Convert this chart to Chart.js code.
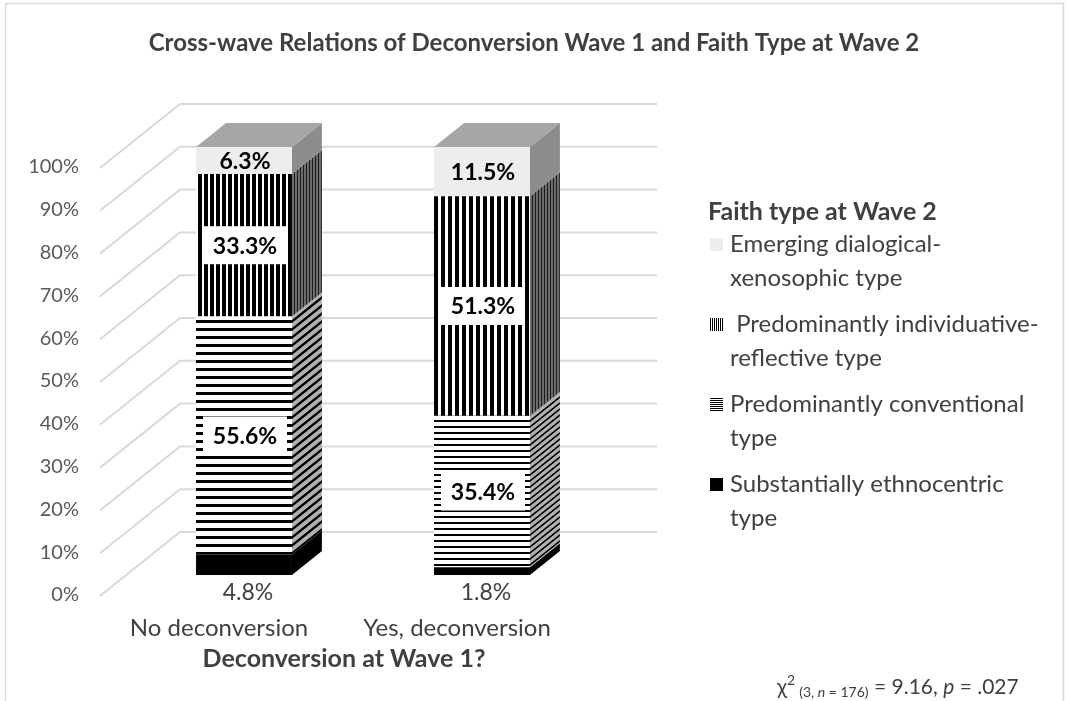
<!DOCTYPE html>
<html>
<head>
<meta charset="utf-8">
<script src="https://cdn.jsdelivr.net/npm/chart.js@4.4.1/dist/chart.umd.min.js"></script>
<style>
  html, body { margin: 0; padding: 0; background: #fff; }
  #wrap { width: 1069px; height: 701px; }
</style>
</head>
<body>
<div id="wrap"><canvas id="chart" width="1069" height="701"></canvas></div>
<script>
// Data
const categories = ['No deconversion', 'Yes, deconversion'];
const seriesNames = [
    'Substantially ethnocentric type',
    'Predominantly conventional type',
    'Predominantly individuative-reflective type',
    'Emerging dialogical-xenosophic type'
];
const ethnocentric = [4.8, 1.8];
const conventional = [55.6, 35.4];
const individuative = [33.3, 51.3];
const dialogical = [6.3, 11.5];
const yTickValues = [0, 10, 20, 30, 40, 50, 60, 70, 80, 90, 100];

// legend text, top to bottom (wrapped like the original)
const legendTitle = 'Faith type at Wave 2';
const legendLines = [
    ['Emerging dialogical-', 'xenosophic type'],
    [' Predominantly individuative-', 'reflective type'],
    ['Predominantly conventional', 'type'],
    ['Substantially ethnocentric', 'type']
];
const chartTitle = 'Cross-wave Relations of Deconversion Wave 1 and Faith Type at Wave 2';
const xAxisTitle = 'Deconversion at Wave 1?';

// 3D look
const DX = 30, DY = -24;          // bar depth offset
const FRONT_DY = 21, WALL_DY = -43; // floor front / back wall offsets
const FONT = 'Lato, "Open Sans", sans-serif';

const canvas = document.getElementById('chart');
const ctx = canvas.getContext('2d');

function stripes(dir, period, line, bg, fg) {
    const c = document.createElement('canvas');
    c.width = dir === 'v' ? period : 1;
    c.height = dir === 'v' ? 1 : period;
    const g = c.getContext('2d');
    g.fillStyle = bg;
    g.fillRect(0, 0, c.width, c.height);
    g.fillStyle = fg;
    if (dir === 'v') g.fillRect(0, 0, line, 1);
    else g.fillRect(0, 0, 1, line);
    return ctx.createPattern(c, 'repeat');
}

const frontFill = [
    ['#000000', '#000000'],
    [stripes('h', 8, 3, '#ffffff', '#000000'), stripes('h', 6, 2, '#ffffff', '#000000')],
    [stripes('v', 6, 4, '#ffffff', '#000000'), stripes('v', 7, 4, '#ffffff', '#000000')],
    ['#ededed', '#ededed']
];
const sideFill = [
    ['#000000', '#000000'],
    [stripes('h', 8, 3, '#b0b0b0', '#000000'), stripes('h', 6, 2, '#b0b0b0', '#000000')],
    [stripes('v', 3, 2, '#1a1a1a', '#6e6e6e'), stripes('v', 3, 2, '#1a1a1a', '#6e6e6e')],
    ['#8c8c8c', '#8c8c8c']
];

// back wall, gridlines, frame, titles
const backdrop = {
    id: 'backdrop',
    beforeDatasetsDraw(chart) {
        const { ctx, chartArea } = chart;
        const ys = chart.scales.y;
        const x0 = chartArea.left - 25, xw = chartArea.left + 55, xr = chartArea.right + 56;
        ctx.save();
        ctx.strokeStyle = '#d9d9d9';
        ctx.lineWidth = 2;
        yTickValues.forEach(v => {
            const y = ys.getPixelForValue(v);
            ctx.beginPath();
            ctx.moveTo(x0, y + FRONT_DY);
            ctx.lineTo(xw, y + WALL_DY);
            ctx.lineTo(xr, y + WALL_DY);
            ctx.stroke();
        });
        ctx.restore();
    },
    afterDraw(chart) {
        const { ctx, chartArea } = chart;
        ctx.save();
        // frame
        ctx.strokeStyle = '#d9d9d9';
        ctx.lineWidth = 1.5;
        ctx.strokeRect(5.5, 3.5, 1058, 710);

        ctx.fillStyle = '#404040';
        ctx.textAlign = 'center';
        ctx.textBaseline = 'middle';
        ctx.font = 'bold 24px ' + FONT;
        ctx.fillText(chartTitle, 534, 43);

        ctx.font = 'bold 25px ' + FONT;
        ctx.fillText(xAxisTitle, (chartArea.left + chartArea.right) / 2 - 19, 659);

        // legend
        ctx.textAlign = 'left';
        ctx.font = 'bold 25px ' + FONT;
        ctx.fillText(legendTitle, 708, 212);
        const legendBox = [
            '#ededed',
            stripes('v', 2, 1, '#ffffff', '#000000'),
            stripes('h', 2, 1, '#ffffff', '#000000'),
            '#000000'
        ];
        ctx.font = '24px ' + FONT;
        legendLines.forEach((lines, i) => {
            const y = 244 + i * 80;
            ctx.fillStyle = legendBox[i];
            ctx.fillRect(710, y - 6, 13, 13);
            ctx.fillStyle = '#404040';
            lines.forEach((t, j) => ctx.fillText(t, 730, y + j * 34));
        });

        // chi-square note
        let x = 777;
        const by = 694;
        ctx.textBaseline = 'alphabetic';
        const put = (t, font, dy) => {
            ctx.font = font;
            ctx.fillText(t, x, by + (dy || 0));
            x += ctx.measureText(t).width;
        };
        put('\u03c7', '21px ' + FONT);
        put('2', '14px ' + FONT, -9);
        x += 4;
        put('(3, ', '14px ' + FONT, 3);
        put('n', 'italic 14px ' + FONT, 3);
        put(' = 176)', '14px ' + FONT, 3);
        put(' = 9.16, ', '21px ' + FONT);
        put('p', 'italic 21px ' + FONT);
        put(' = .027', '21px ' + FONT);
        ctx.restore();
    }
};

// side / top faces and value labels
const depth = {
    id: 'depth',
    afterDatasetsDraw(chart) {
        const { ctx } = chart;
        const top = chart.data.datasets.length - 1;
        chart.data.datasets.forEach((ds, di) => {
            chart.getDatasetMeta(di).data.forEach((bar, i) => {
                const p = bar.getProps(['x', 'y', 'base', 'width'], true);
                const xl = p.x - p.width / 2, xr = p.x + p.width / 2;
                const yt = Math.min(p.y, p.base), yb = Math.max(p.y, p.base);
                ctx.save();
                ctx.beginPath();
                ctx.moveTo(xr, yt);
                ctx.lineTo(xr + DX, yt + DY);
                ctx.lineTo(xr + DX, yb + DY);
                ctx.lineTo(xr, yb);
                ctx.closePath();
                ctx.clip();
                ctx.translate(xr, 0);
                ctx.transform(1, DY / DX, 0, 1, 0, 0);
                ctx.fillStyle = sideFill[di][i];
                ctx.fillRect(0, yt - 1, DX, yb - yt + 2);
                ctx.restore();
                if (di === top) {
                    ctx.fillStyle = '#a6a6a6';
                    ctx.beginPath();
                    ctx.moveTo(xl, yt);
                    ctx.lineTo(xr, yt);
                    ctx.lineTo(xr + DX, yt + DY);
                    ctx.lineTo(xl + DX, yt + DY);
                    ctx.closePath();
                    ctx.fill();
                }
            });
        });

        ctx.save();
        ctx.textAlign = 'center';
        ctx.textBaseline = 'middle';
        chart.data.datasets.forEach((ds, di) => {
            chart.getDatasetMeta(di).data.forEach((bar, i) => {
                const p = bar.getProps(['x', 'y', 'base', 'width'], true);
                const label = ds.data[i].toFixed(1) + '%';
                if (di === 0) {
                    ctx.font = '23px ' + FONT;
                    ctx.fillStyle = '#404040';
                    ctx.fillText(label, p.x + 4, p.base + 18);
                    return;
                }
                const cy = (p.y + p.base) / 2;
                if (di === 1 || di === 2) {
                    ctx.fillStyle = '#ffffff';
                    ctx.fillRect(p.x - 41, cy - 19, 84, 38);
                }
                ctx.font = 'bold 23px ' + FONT;
                ctx.fillStyle = '#000000';
                ctx.fillText(label, p.x + 1, cy + 1);
            });
        });
        ctx.restore();
    }
};

new Chart(ctx, {
    type: 'bar',
    data: {
        labels: categories,
        datasets: [
            { label: seriesNames[0], data: ethnocentric, backgroundColor: frontFill[0] },
            { label: seriesNames[1], data: conventional, backgroundColor: frontFill[1] },
            { label: seriesNames[2], data: individuative, backgroundColor: frontFill[2] },
            { label: seriesNames[3], data: dialogical, backgroundColor: frontFill[3] }
        ]
    },
    options: {
        responsive: false,
        animation: false,
        devicePixelRatio: 1,
        barPercentage: 0.403,
        categoryPercentage: 1,
        layout: { padding: { left: 0, right: 468, top: 147, bottom: 0 } },
        plugins: {
            legend: { display: false },
            tooltip: { enabled: false },
            title: { display: false }
        },
        scales: {
            x: {
                stacked: true,
                grid: { display: false, drawTicks: false },
                border: { display: false },
                ticks: { color: '#404040', font: { family: FONT, size: 24 }, padding: 39, labelOffset: -25 },
                afterFit: s => { s.height = 126; }
            },
            y: {
                stacked: true,
                min: 0,
                max: 100,
                grid: { display: false, drawTicks: false },
                border: { display: false },
                ticks: {
                    stepSize: 10,
                    color: '#595959',
                    font: { family: FONT, size: 20 },
                    padding: 46,
                    labelOffset: 20,
                    callback: v => v + '%'
                },
                afterFit: s => { s.width = 125; }
            }
        }
    },
    plugins: [backdrop, depth]
});
</script>
</body>
</html>
